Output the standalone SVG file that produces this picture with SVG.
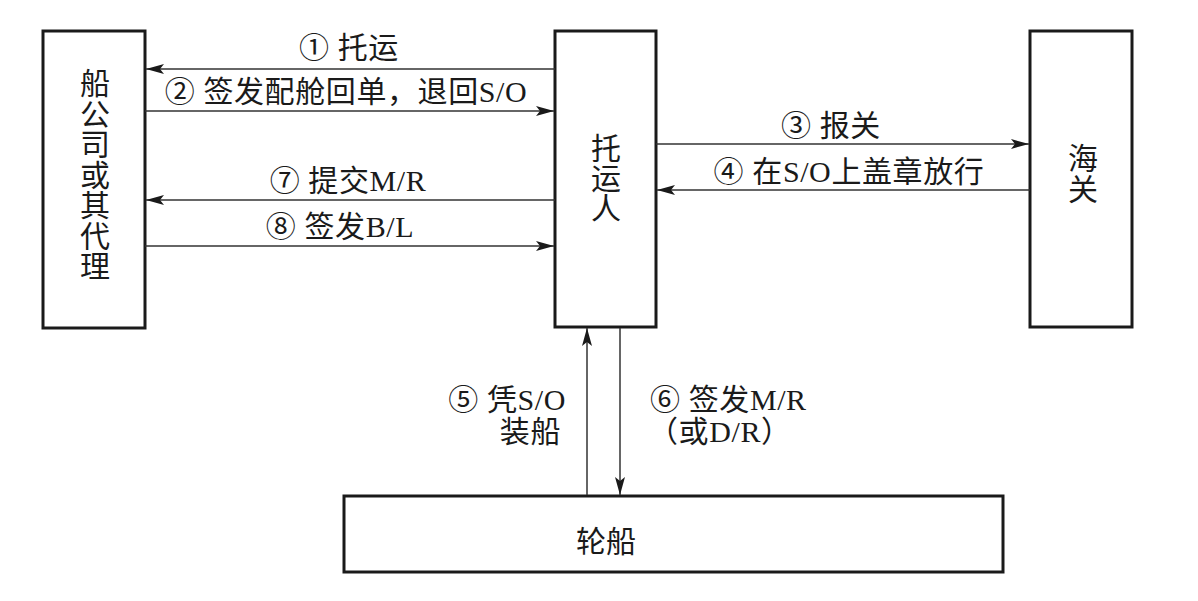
<svg xmlns="http://www.w3.org/2000/svg" width="1198" height="601" viewBox="0 0 1198 601">
<style>
.box{fill:#fff;stroke:#1a1a1a;stroke-width:3}
.t{font-family:"Liberation Serif","Noto Sans CJK SC",serif;font-size:30px;letter-spacing:0.6px;fill:#1a1a1a}
.v{font-family:"Liberation Serif","Noto Sans CJK SC",serif;font-size:30px;fill:#1a1a1a;text-anchor:middle;dominant-baseline:central}
.ln{stroke:#333;stroke-width:1.5;fill:none}
</style>
<defs>
<marker id="ah" markerUnits="userSpaceOnUse" markerWidth="20" markerHeight="12" refX="18" refY="5" orient="auto">
<path d="M0,0 L18,5 L0,10 L4,5 z" fill="#1a1a1a"/>
</marker>
</defs>
<rect width="1198" height="601" fill="#fff"/>
<g id="shipping-company">
<rect class="box" x="43" y="31" width="102" height="297"/>
<text class="v"><tspan x="95" y="83">船</tspan><tspan x="95" y="113.5">公</tspan><tspan x="95" y="144">司</tspan><tspan x="95" y="174.5">或</tspan><tspan x="95" y="205">其</tspan><tspan x="95" y="235.5">代</tspan><tspan x="95" y="266">理</tspan></text>
</g>
<g id="shipper">
<rect class="box" x="555" y="31" width="101" height="296"/>
<text class="v"><tspan x="606" y="148">托</tspan><tspan x="606" y="178">运</tspan><tspan x="606" y="208">人</tspan></text>
</g>
<g id="customs">
<rect class="box" x="1030" y="31" width="102" height="296"/>
<text class="v"><tspan x="1083" y="158">海</tspan><tspan x="1083" y="189">关</tspan></text>
</g>
<g id="ship">
<rect class="box" x="344" y="496" width="659" height="76"/>
<text class="v" x="606" y="541">轮船</text>
</g>
<g id="connectors">
<line class="ln" x1="555" y1="69" x2="146" y2="69" marker-end="url(#ah)"/>
<line class="ln" x1="145" y1="111" x2="554" y2="111" marker-end="url(#ah)"/>
<line class="ln" x1="656" y1="144" x2="1029" y2="144" marker-end="url(#ah)"/>
<line class="ln" x1="1030" y1="190" x2="657" y2="190" marker-end="url(#ah)"/>
<line class="ln" x1="555" y1="200" x2="146" y2="200" marker-end="url(#ah)"/>
<line class="ln" x1="145" y1="246" x2="554" y2="246" marker-end="url(#ah)"/>
<line class="ln" x1="587" y1="495" x2="587" y2="328" marker-end="url(#ah)"/>
<line class="ln" x1="620" y1="328" x2="620" y2="495" marker-end="url(#ah)"/>
<text class="t" x="349" y="58" text-anchor="middle">① 托运</text>
<text class="t" x="346" y="102" text-anchor="middle">② 签发配舱回单，退回S/O</text>
<text class="t" x="831" y="136" text-anchor="middle">③ 报关</text>
<text class="t" x="849" y="182" text-anchor="middle">④ 在S/O上盖章放行</text>
<text class="t" x="348" y="191" text-anchor="middle">⑦ 提交M/R</text>
<text class="t" x="340" y="237" text-anchor="middle">⑧ 签发B/L</text>
<text class="t" x="566" y="410" text-anchor="end">⑤ 凭S/O</text>
<text class="t" x="561" y="442" text-anchor="end">装船</text>
<text class="t" x="650" y="410">⑥ 签发M/R</text>
<text class="t" x="648" y="442">（或D/R）</text>
</g>
</svg>
